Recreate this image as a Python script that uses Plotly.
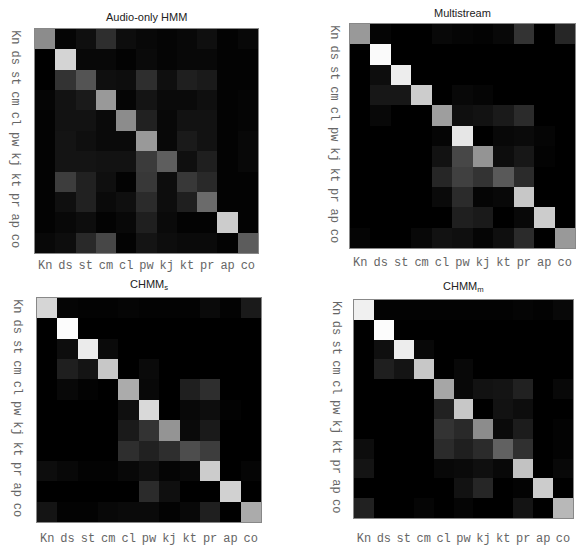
import plotly.graph_objects as go

labels = ["Kn", "ds", "st", "cm", "cl", "pw", "kj", "kt", "pr", "ap", "co"]

titles = ["Audio-only HMM", "Multistream", "CHMM<sub>s</sub>", "CHMM<sub>m</sub>"]

audio_only = [
    [0.55, 0.02, 0.06, 0.18, 0.05, 0.03, 0.02, 0.03, 0.06, 0.01, 0.03],
    [0.00, 0.83, 0.03, 0.03, 0.01, 0.04, 0.02, 0.03, 0.03, 0.01, 0.01],
    [0.00, 0.20, 0.33, 0.06, 0.05, 0.18, 0.06, 0.12, 0.10, 0.01, 0.01],
    [0.02, 0.07, 0.10, 0.60, 0.02, 0.08, 0.04, 0.04, 0.06, 0.01, 0.02],
    [0.01, 0.07, 0.07, 0.04, 0.55, 0.13, 0.03, 0.07, 0.07, 0.01, 0.02],
    [0.01, 0.08, 0.06, 0.04, 0.04, 0.60, 0.03, 0.10, 0.07, 0.01, 0.03],
    [0.01, 0.08, 0.08, 0.07, 0.07, 0.23, 0.37, 0.06, 0.12, 0.01, 0.03],
    [0.01, 0.24, 0.13, 0.06, 0.01, 0.22, 0.05, 0.22, 0.16, 0.01, 0.01],
    [0.01, 0.06, 0.13, 0.04, 0.06, 0.17, 0.05, 0.12, 0.42, 0.01, 0.01],
    [0.01, 0.03, 0.05, 0.01, 0.03, 0.12, 0.04, 0.01, 0.01, 0.80, 0.01],
    [0.03, 0.05, 0.16, 0.28, 0.01, 0.08, 0.05, 0.04, 0.04, 0.01, 0.36],
]

multistream = [
    [0.60, 0.02, 0.00, 0.00, 0.03, 0.02, 0.01, 0.03, 0.20, 0.00, 0.15],
    [0.00, 0.98, 0.00, 0.00, 0.00, 0.00, 0.00, 0.00, 0.00, 0.00, 0.00],
    [0.00, 0.05, 0.93, 0.00, 0.00, 0.00, 0.00, 0.00, 0.00, 0.00, 0.00],
    [0.00, 0.09, 0.09, 0.80, 0.00, 0.03, 0.02, 0.00, 0.00, 0.00, 0.00],
    [0.00, 0.03, 0.00, 0.00, 0.62, 0.06, 0.07, 0.10, 0.17, 0.00, 0.00],
    [0.00, 0.00, 0.00, 0.00, 0.02, 0.90, 0.00, 0.03, 0.04, 0.02, 0.00],
    [0.00, 0.00, 0.00, 0.00, 0.07, 0.28, 0.58, 0.05, 0.09, 0.01, 0.00],
    [0.00, 0.00, 0.00, 0.00, 0.15, 0.25, 0.20, 0.35, 0.17, 0.00, 0.00],
    [0.00, 0.00, 0.00, 0.00, 0.04, 0.17, 0.02, 0.03, 0.78, 0.00, 0.00],
    [0.00, 0.00, 0.00, 0.00, 0.00, 0.12, 0.10, 0.00, 0.03, 0.80, 0.00],
    [0.02, 0.00, 0.00, 0.03, 0.07, 0.06, 0.02, 0.06, 0.17, 0.00, 0.60],
]

chmm_s = [
    [0.84, 0.02, 0.01, 0.01, 0.02, 0.01, 0.01, 0.01, 0.04, 0.01, 0.10],
    [0.00, 0.99, 0.00, 0.00, 0.00, 0.00, 0.00, 0.00, 0.00, 0.00, 0.00],
    [0.00, 0.05, 0.92, 0.04, 0.00, 0.00, 0.00, 0.00, 0.00, 0.00, 0.00],
    [0.00, 0.12, 0.08, 0.78, 0.00, 0.04, 0.00, 0.00, 0.00, 0.00, 0.00],
    [0.00, 0.03, 0.01, 0.00, 0.67, 0.03, 0.00, 0.12, 0.18, 0.00, 0.00],
    [0.00, 0.00, 0.00, 0.00, 0.06, 0.85, 0.00, 0.03, 0.05, 0.01, 0.00],
    [0.00, 0.00, 0.00, 0.00, 0.10, 0.20, 0.58, 0.04, 0.10, 0.00, 0.00],
    [0.00, 0.00, 0.00, 0.00, 0.18, 0.13, 0.18, 0.30, 0.24, 0.00, 0.00],
    [0.05, 0.03, 0.01, 0.01, 0.03, 0.06, 0.02, 0.03, 0.80, 0.00, 0.02],
    [0.00, 0.00, 0.00, 0.00, 0.00, 0.17, 0.06, 0.00, 0.00, 0.82, 0.00],
    [0.08, 0.01, 0.01, 0.03, 0.04, 0.04, 0.01, 0.03, 0.12, 0.00, 0.67],
]

chmm_m = [
    [0.94, 0.01, 0.01, 0.01, 0.01, 0.01, 0.01, 0.01, 0.02, 0.01, 0.03],
    [0.00, 0.99, 0.00, 0.00, 0.00, 0.00, 0.00, 0.00, 0.00, 0.00, 0.00],
    [0.00, 0.06, 0.93, 0.03, 0.00, 0.00, 0.00, 0.00, 0.00, 0.00, 0.00],
    [0.00, 0.12, 0.08, 0.78, 0.00, 0.03, 0.00, 0.00, 0.00, 0.00, 0.00],
    [0.00, 0.00, 0.00, 0.00, 0.65, 0.03, 0.07, 0.08, 0.13, 0.00, 0.03],
    [0.00, 0.00, 0.00, 0.00, 0.13, 0.78, 0.00, 0.07, 0.05, 0.00, 0.00],
    [0.00, 0.00, 0.00, 0.00, 0.20, 0.16, 0.55, 0.04, 0.11, 0.00, 0.01],
    [0.05, 0.00, 0.00, 0.00, 0.17, 0.12, 0.17, 0.38, 0.19, 0.00, 0.01],
    [0.08, 0.00, 0.00, 0.00, 0.03, 0.04, 0.06, 0.03, 0.76, 0.00, 0.03],
    [0.00, 0.00, 0.00, 0.00, 0.00, 0.07, 0.15, 0.00, 0.01, 0.80, 0.00],
    [0.13, 0.00, 0.00, 0.02, 0.00, 0.02, 0.00, 0.00, 0.08, 0.00, 0.72],
]

matrices = [audio_only, multistream, chmm_s, chmm_m]

W, H = 577, 546
# panel boxes in pixels: (x0, x1, y0_top, y1_bottom)
boxes = [(35, 258, 29, 253), (350, 575, 24, 248), (37, 261, 298, 522), (354, 573, 300, 518)]
title_y = [17, 13, 285, 287]
x_standoff = [1, 3, 5, 9]
y_standoff = [8, 4, 8, 6]

fig = go.Figure()
gray = [[0, "#000000"], [1, "#ffffff"]]
tickfont = dict(family="Liberation Mono", size=12, color="#666666")

for i, (mat, box) in enumerate(zip(matrices, boxes)):
    n = "" if i == 0 else str(i + 1)
    fig.add_trace(go.Heatmap(
        z=mat, x=labels, y=labels, colorscale=gray, zmin=0, zmax=1,
        showscale=False, xaxis="x" + n, yaxis="y" + n,
        hovertemplate="%{y} → %{x}: %{z}<extra></extra>",
    ))
    x0, x1, yt, yb = box
    fig.update_layout(**{
        "xaxis" + n: dict(domain=[x0 / W, x1 / W], anchor="y" + n, tickfont=tickfont,
                          showline=True, mirror=True, linecolor="#888888", linewidth=1,
                          ticks="", showgrid=False, zeroline=False, fixedrange=True,
                          automargin=False, ticklabelstandoff=x_standoff[i]),
        "yaxis" + n: dict(domain=[1 - yb / H, 1 - yt / H], anchor="x" + n, tickfont=tickfont,
                          autorange="reversed", tickangle=90,
                          showline=True, mirror=True, linecolor="#888888", linewidth=1,
                          ticks="", showgrid=False, zeroline=False, fixedrange=True,
                          automargin=False, ticklabelstandoff=y_standoff[i]),
    })
    fig.add_annotation(text=titles[i], x=(x0 + x1) / 2 / W, y=1 - title_y[i] / H,
                       xref="paper", yref="paper", showarrow=False,
                       xanchor="center", yanchor="middle",
                       font=dict(family="Liberation Sans", size=11, color="#222222"))

fig.update_layout(width=W, height=H, margin=dict(l=0, r=0, t=0, b=0),
                  paper_bgcolor="white", plot_bgcolor="white", showlegend=False)

fig.write_html("out.html", config={"displayModeBar": False},
               post_script="document.body.style.margin='0';")
